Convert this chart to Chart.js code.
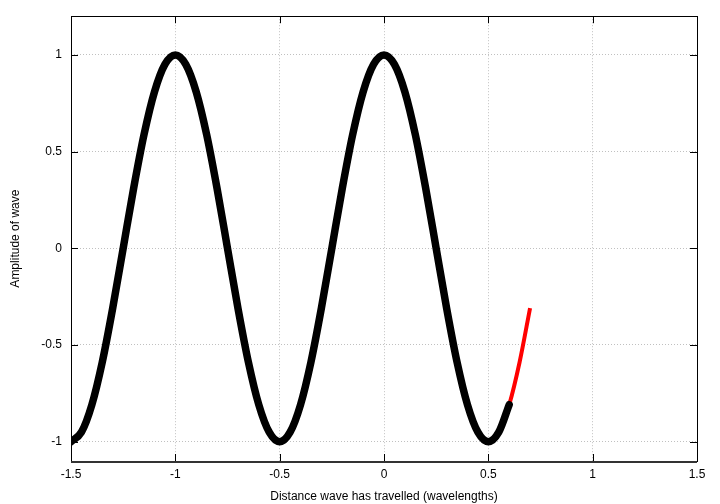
<!DOCTYPE html>
<html>
<head>
<meta charset="utf-8">
<script src="https://cdn.jsdelivr.net/npm/chart.js@4/dist/chart.umd.min.js"></script>
<style>
	html, body { margin: 0; padding: 0; background: #fff; }
	#wrap { width: 720px; height: 504px; }
</style>
</head>
<body>
<div id="wrap"><canvas id="c" width="720" height="504"></canvas></div>
<script>
// points, every 0.05 wavelengths
var xValues = [-1.5, -1.45, -1.4, -1.35, -1.3, -1.25, -1.2, -1.15, -1.1, -1.05,
	-1.0, -0.95, -0.9, -0.85, -0.8, -0.75, -0.7, -0.65, -0.6, -0.55,
	-0.5, -0.45, -0.4, -0.35, -0.3, -0.25, -0.2, -0.15, -0.1, -0.05,
	0.0, 0.05, 0.1, 0.15, 0.2, 0.25, 0.3, 0.35, 0.4, 0.45,
	0.5, 0.55, 0.6, 0.65, 0.7];
var amplitude = [-1, -0.951, -0.809, -0.588, -0.309, 0, 0.309, 0.588, 0.809, 0.951,
	1, 0.951, 0.809, 0.588, 0.309, 0, -0.309, -0.588, -0.809, -0.951,
	-1, -0.951, -0.809, -0.588, -0.309, 0, 0.309, 0.588, 0.809, 0.951,
	1, 0.951, 0.809, 0.588, 0.309, 0, -0.309, -0.588, -0.809, -0.951,
	-1, -0.951, -0.809, -0.588, -0.309];
var blackEndIndex = 42; // black trace stops at x = 0.6

var xTicks = [-1.5, -1, -0.5, 0, 0.5, 1, 1.5];
var yTicks = [-1, -0.5, 0, 0.5, 1];

var xTitle = 'Distance wave has travelled (wavelengths)';
var yTitle = 'Amplitude of wave';

var toPoints = function(from, to){
	var pts = [];
	for (var i = from; i <= to; i++) {
		pts.push({x: xValues[i], y: amplitude[i]});
	}
	return pts;
};

var font = {family: '"Liberation Sans", Arial, sans-serif', size: 12};

// gnuplot style box with inward ticks on all four sides
var borderTicks = {
	id: 'borderTicks',
	beforeDatasetsDraw: function(chart){
		var ctx = chart.ctx, a = chart.chartArea;
		var xs = chart.scales.x, ys = chart.scales.y;
		ctx.save();
		ctx.strokeStyle = '#000';
		ctx.lineWidth = 1;
		ctx.beginPath();
		xTicks.forEach(function(v){
			var px = Math.round(xs.getPixelForValue(v)) + 0.5;
			ctx.moveTo(px, a.bottom); ctx.lineTo(px, a.bottom - 7);
			ctx.moveTo(px, a.top); ctx.lineTo(px, a.top + 7);
		});
		yTicks.forEach(function(v){
			var py = Math.round(ys.getPixelForValue(v)) + 0.5;
			ctx.moveTo(a.left, py); ctx.lineTo(a.left + 7, py);
			ctx.moveTo(a.right, py); ctx.lineTo(a.right - 7, py);
		});
		ctx.stroke();
		ctx.strokeRect(Math.round(a.left) + 0.5, Math.round(a.top) + 0.5,
			Math.round(a.right - a.left), Math.round(a.bottom - a.top));
		ctx.lineWidth = 2;
		ctx.strokeStyle = '#333';
		ctx.beginPath();
		ctx.moveTo(a.left, Math.round(a.bottom) + 1);
		ctx.lineTo(a.right, Math.round(a.bottom) + 1);
		ctx.stroke();
		ctx.restore();
	}
};

var chart = new Chart(document.getElementById('c'), {
	type: 'line',
	data: {
		datasets: [
			{
				data: toPoints(0, blackEndIndex),
				borderColor: '#000',
				borderWidth: 7.5,
				borderCapStyle: 'round',
				borderJoinStyle: 'round',
				cubicInterpolationMode: 'monotone',
				pointRadius: 0,
				order: 1
			},
			{
				data: toPoints(0, xValues.length - 1),
				borderColor: '#ff0000',
				borderWidth: 4,
				borderCapStyle: 'butt',
				cubicInterpolationMode: 'monotone',
				pointRadius: 0,
				order: 2
			}
		]
	},
	options: {
		responsive: false,
		animation: false,
		devicePixelRatio: 1,
		layout: {padding: {top: 16, right: 23, left: 0, bottom: 0}},
		plugins: {legend: {display: false}, tooltip: {enabled: false}},
		scales: {
			x: {
				type: 'linear',
				min: -1.5,
				max: 1.5,
				afterBuildTicks: function(s){ s.ticks = xTicks.map(function(v){ return {value: v}; }); },
				afterFit: function(s){ s.height = 43; },
				ticks: {
					color: '#000',
					font: font,
					padding: 6,
					maxRotation: 0,
					callback: function(v){ return String(v); }
				},
				grid: {color: '#c0c0c0', lineWidth: 1, drawTicks: false},
				border: {display: false, dash: [1, 2]},
				title: {display: true, text: xTitle, color: '#000', font: font, padding: {top: 6, bottom: 0}}
			},
			y: {
				type: 'linear',
				min: -1.1,
				max: 1.2,
				afterBuildTicks: function(s){ s.ticks = yTicks.map(function(v){ return {value: v}; }); },
				afterFit: function(s){ s.width = 71; },
				ticks: {
					color: '#000',
					font: font,
					padding: 9,
					callback: function(v){ return String(v); }
				},
				grid: {color: '#c0c0c0', lineWidth: 1, drawTicks: false},
				border: {display: false, dash: [1, 2]},
				title: {display: true, text: yTitle, color: '#000', font: font, padding: {top: 8, bottom: 0}}
			}
		}
	},
	plugins: [borderTicks]
});
</script>
</body>
</html>
